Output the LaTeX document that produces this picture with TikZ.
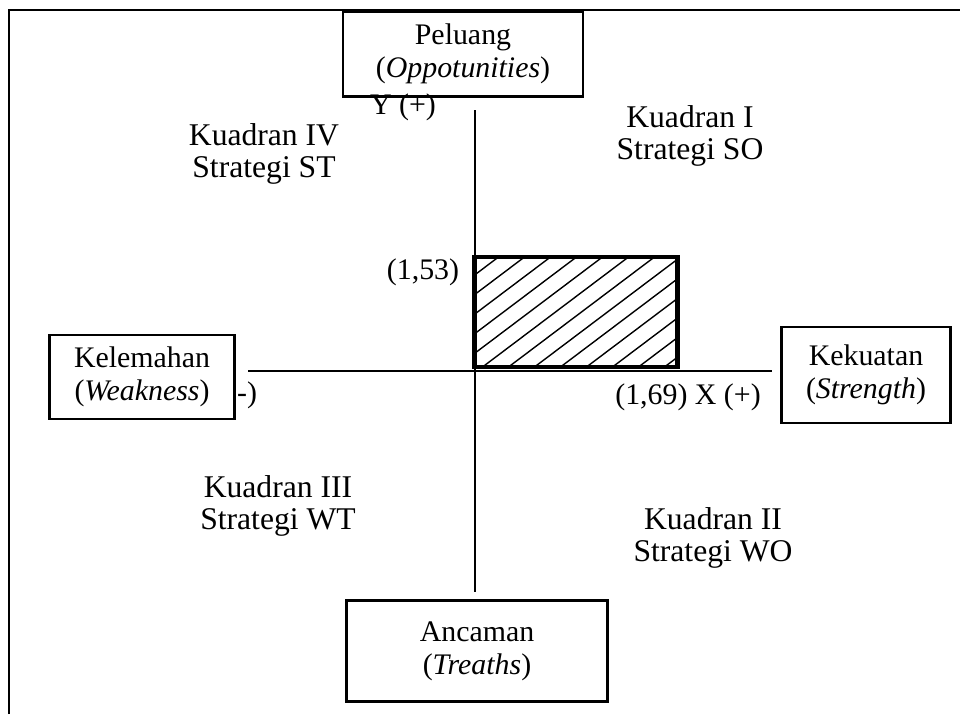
\documentclass[tikz,border=0pt]{standalone}
\usepackage{fontspec}
\setmainfont{Liberation Serif}
\usetikzlibrary{positioning}

\begin{document}
\begin{tikzpicture}
  [
    x=0.02cm, y=-0.02cm,
    Box/.style={rectangle, draw=black, line width=1.4pt, align=center, inner sep=0pt, font=\fontsize{17}{18.7}\selectfont},
    Quad/.style={align=center, font=\fontsize{18}{18.5}\selectfont},
    Tag/.style={inner sep=0pt, font=\fontsize{17}{18}\selectfont},
    Axis/.style={draw=black, line width=1.1pt},
    Hatched/.style={rectangle, draw=black, line width=2.6pt, minimum width=4.06cm, minimum height=2.2cm, inner sep=0pt,
      path picture={\foreach \k in {-6,...,7} \draw[line width=0.8pt] ([xshift=\k*5.2mm+1.6mm]path picture bounding box.south west) -- ++(37:5cm);}}
  ]
  \useasboundingbox (0,0) rectangle (960,714);
  % Frame
  \draw[line width=1.7pt] (9,714) -- (9,10) -- (960,10);
  % Axes
  \coordinate (ytop) at (475,110);
  \coordinate (ybot) at (475,592);
  \coordinate (xleft) at (248,371);
  \coordinate (xright) at (772,371);
  \path[Axis] (ytop) -- (ybot);
  \path[Axis] (xleft) -- (xright);
  % Nodes
  \node[Box, minimum width=4.8cm, minimum height=1.7cm] (opp) at (463,54) {Peluang\\(\textit{Oppotunities})};
  \node[Box, minimum width=3.7cm, minimum height=1.68cm] (weak) at (142,377) {Kelemahan\\(\textit{Weakness})};
  \node[Box, minimum width=3.38cm, minimum height=1.92cm] (str) at (866,375) {Kekuatan\\(\textit{Strength})};
  \node[Box, minimum width=5.22cm, minimum height=2.02cm] (thr) at (477,651) {Ancaman\\(\textit{Treaths})};
  \node[Hatched] (pos) at (576,312) {};
  % Labels
  \node[Tag] (ylab) at (403,107) {Y (+)};
  \node[Tag] (ycoord) at (423,272) {(1,53)};
  \node[Tag] (xlab) at (688,397) {(1,69) X (+)};
  \node[Tag] (xneg) at (247,395) {-)};
  \node[Quad] (q4) at (264,154) {Kuadran IV\\Strategi ST};
  \node[Quad] (q1) at (690,136) {Kuadran I\\Strategi SO};
  \node[Quad] (q3) at (278,506) {Kuadran III\\Strategi WT};
  \node[Quad] (q2) at (713,538) {Kuadran II\\Strategi WO};
\end{tikzpicture}
\end{document}
